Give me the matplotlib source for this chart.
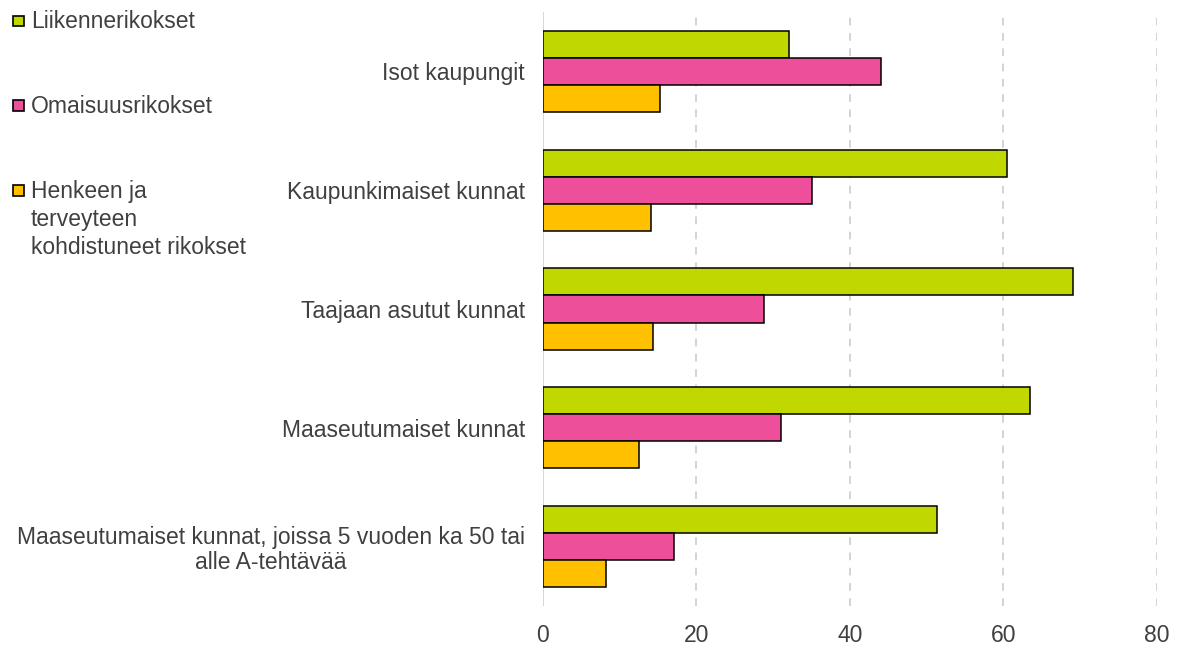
import numpy as np
import matplotlib.pyplot as plt
from matplotlib.patches import Rectangle

plt.rcParams['font.family'] = ['Liberation Sans', 'DejaVu Sans']

# data
categories = [
    "Isot kaupungit",
    "Kaupunkimaiset kunnat",
    "Taajaan asutut kunnat",
    "Maaseutumaiset kunnat",
    "Maaseutumaiset kunnat, joissa 5 vuoden ka 50 tai\nalle A-tehtävää",
]
series_names = [
    "Liikennerikokset",
    "Omaisuusrikokset",
    "Henkeen ja\nterveyteen\nkohdistuneet rikokset",
]
liikenne = [32.0, 60.5, 69.0, 63.5, 51.3]
omaisuus = [44.0, 35.0, 28.8, 31.0, 17.1]
henkeen = [15.2, 14.1, 14.3, 12.5, 8.2]
colors = ["#C0D800", "#EE4F9A", "#FFC000"]
xticks = [0, 20, 40, 60, 80]

FS = 16.5
TXT = "#404040"

fig = plt.figure(figsize=(11.84, 6.48), dpi=100)
ax = fig.add_axes([0.4586, 0.0648, 0.5186, 0.9167])

y = np.arange(len(categories))
h = 0.228
for k, vals in enumerate([liikenne, omaisuus, henkeen]):
    ax.barh(y + (k - 1) * h, vals, height=h, color=colors[k],
            edgecolor="black", linewidth=1.1, zorder=3)

ax.set_xlim(0, 80)
ax.set_ylim(len(categories) - 0.5, -0.5)
ax.set_xticks(xticks)
ax.set_yticks(y)
ax.set_yticklabels(categories, multialignment="center", linespacing=1.12)
ax.tick_params(axis="both", length=0, labelsize=FS, colors=TXT)
ax.tick_params(axis="y", pad=13)
ax.tick_params(axis="x", pad=13)
for s in ax.spines.values():
    s.set_visible(False)
ax.axvline(0, color="#D0D0D0", linewidth=1.2, zorder=2)
for xv in xticks[1:]:
    ax.axvline(xv, color="#C8C8C8", linewidth=1.1, linestyle=(0, (5, 5)), zorder=1)

# legend on left
leg_y = [0.968, 0.837, 0.706]
for k, name in enumerate(series_names):
    fig.patches.append(Rectangle((0.0114, leg_y[k] - 0.0085), 0.009, 0.0165,
                                 transform=fig.transFigure, facecolor=colors[k],
                                 edgecolor="black", linewidth=1.2))
    fig.text(0.026, leg_y[k] + 0.016, name, ha="left", va="top",
             fontsize=FS, color=TXT, linespacing=1.28)

fig.savefig("out.png", dpi=100)
